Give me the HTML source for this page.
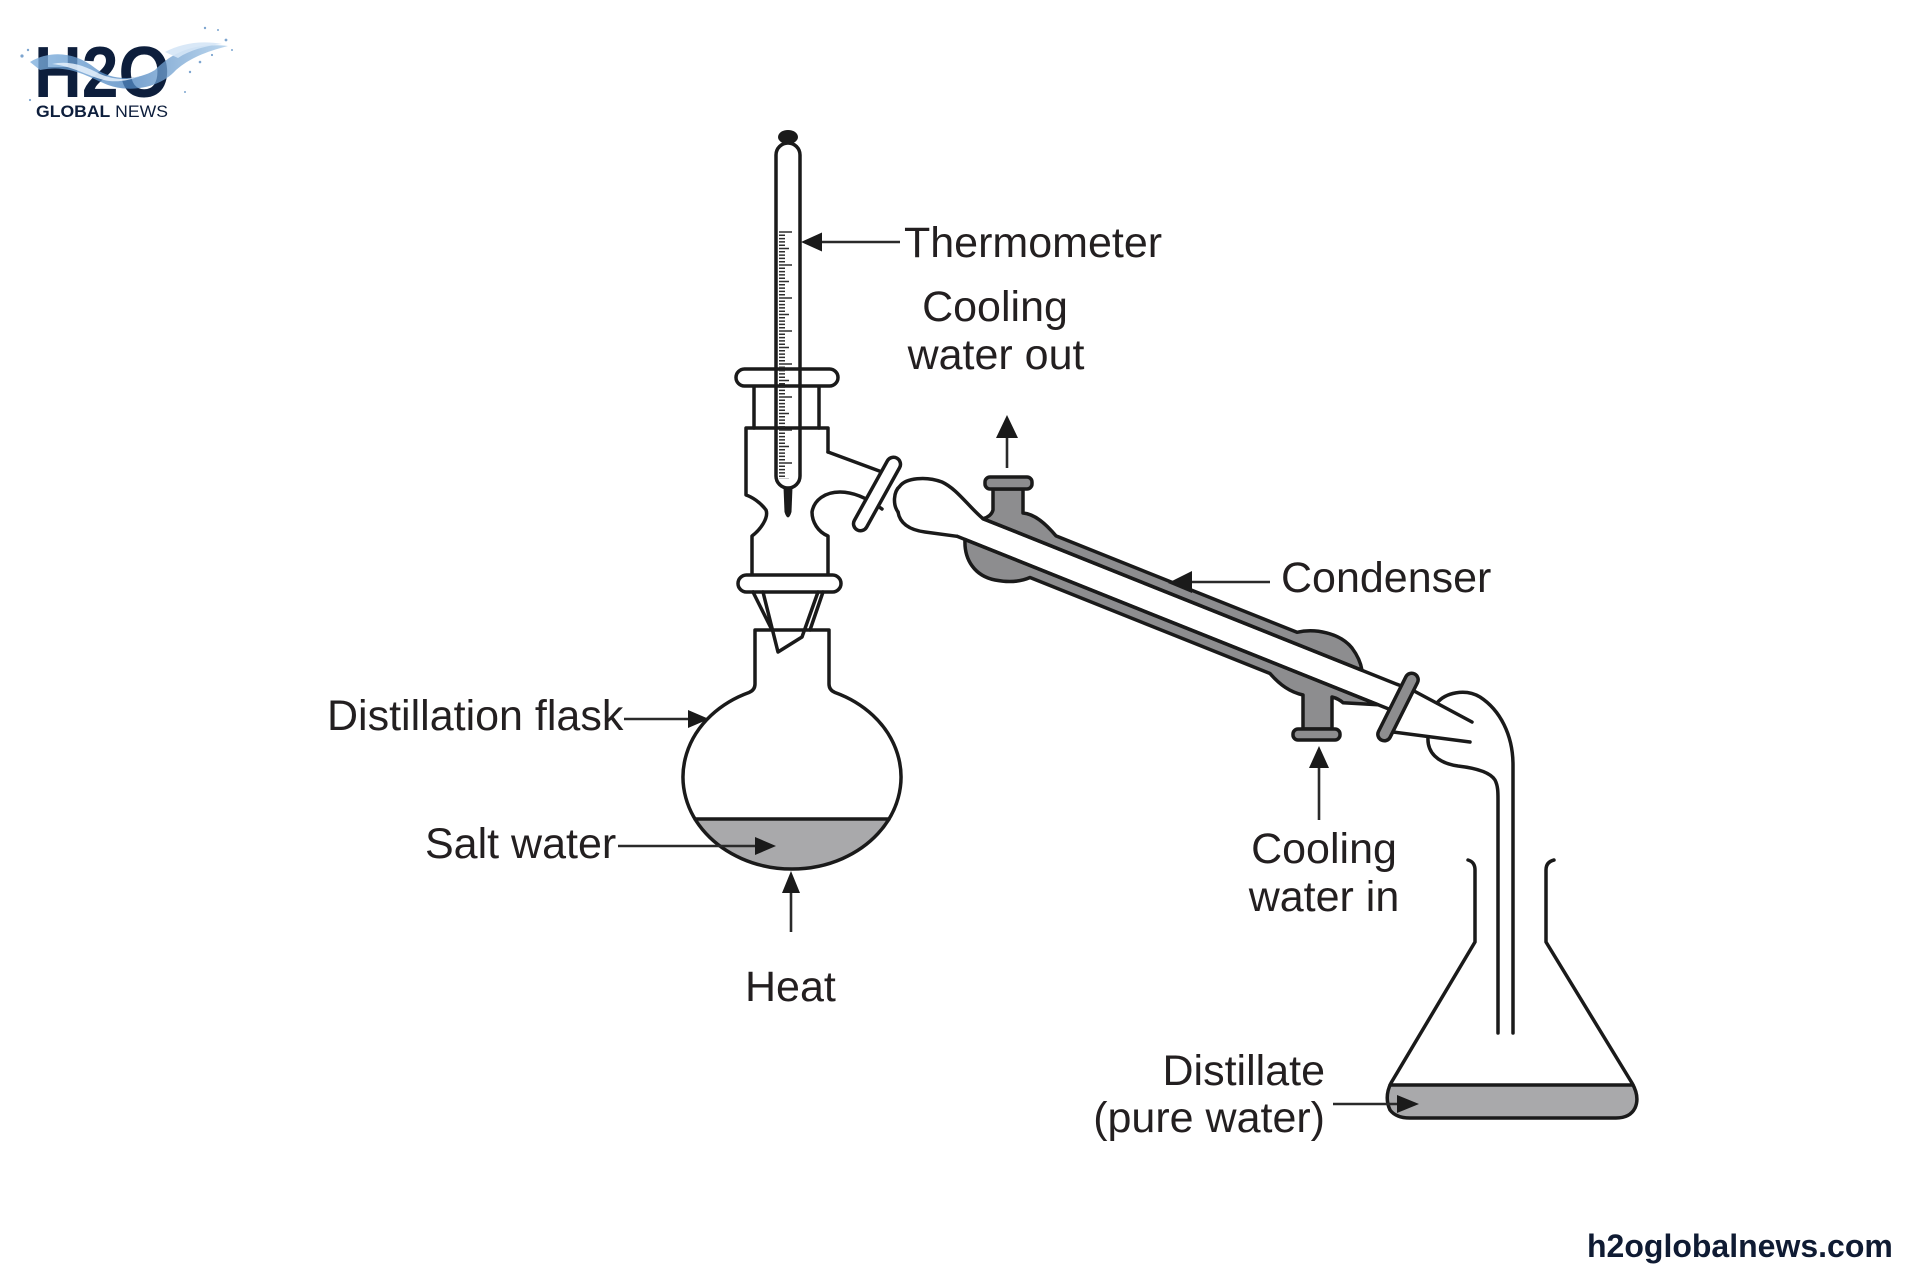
<!DOCTYPE html>
<html>
<head>
<meta charset="utf-8">
<style>
  html,body{margin:0;padding:0;background:#fff;}
  body{width:1920px;height:1280px;overflow:hidden;}
  svg{display:block;}
  .lbl{font-family:"Liberation Sans",Arial,sans-serif;font-size:43px;fill:#231f20;}
</style>
</head>
<body>
<svg width="1920" height="1280" viewBox="0 0 1920 1280" xmlns="http://www.w3.org/2000/svg">
  <defs>
    <pattern id="tk" x="779" y="231" width="20" height="33" patternUnits="userSpaceOnUse">
      <path d="M0 1h13M0 4.3h6M0 7.6h6M0 10.9h6M0 14.2h6M0 17.5h10M0 20.8h6M0 24.1h6M0 27.4h6M0 30.7h6" stroke="#2e2e2e" stroke-width="1.5" fill="none"/>
    </pattern>
    <linearGradient id="spl" x1="0" y1="0" x2="1" y2="0">
      <stop offset="0" stop-color="#7fb0de"/>
      <stop offset="0.5" stop-color="#4f86c0"/>
      <stop offset="1" stop-color="#a9cbe9"/>
    </linearGradient>
  </defs>

  <rect x="0" y="0" width="1920" height="1280" fill="#ffffff"/>

  <!-- ============ LOGO ============ -->
  <g>
    <text x="34" y="97" font-family="Liberation Sans, Arial, sans-serif" font-weight="bold" font-size="72" fill="#0d1e3c" textLength="136" lengthAdjust="spacingAndGlyphs">H2O</text>
    <path d="M30,62 C50,50 75,52 95,68 C110,80 135,82 155,70 C170,55 190,42 228,46 C205,52 190,58 176,70 C160,88 130,93 108,85 C88,77 70,64 40,70 Z" fill="url(#spl)" opacity="0.78"/>
    <path d="M52,64 C70,60 85,66 100,74 C118,82 138,80 152,70 C140,78 120,84 104,80 C88,76 72,66 52,64 Z" fill="#e6f1fb" opacity="0.85"/>
    <path d="M165,52 C180,44 200,40 222,44 C205,46 190,50 178,58 Z" fill="#d5e6f6" opacity="0.9"/>
    <g fill="#5d8fc4" opacity="0.8">
      <circle cx="22" cy="56" r="1.6"/><circle cx="28" cy="50" r="1.2"/><circle cx="200" cy="62" r="1.3"/>
      <circle cx="212" cy="55" r="1.1"/><circle cx="226" cy="40" r="1.4"/><circle cx="218" cy="30" r="1"/>
      <circle cx="205" cy="28" r="1.2"/><circle cx="190" cy="72" r="1.2"/><circle cx="185" cy="92" r="1"/>
      <circle cx="30" cy="100" r="1.1"/><circle cx="232" cy="50" r="1"/>
    </g>
    <text x="36" y="117" font-family="Liberation Sans, Arial, sans-serif" font-size="17" fill="#0d1e3c" textLength="132" lengthAdjust="spacingAndGlyphs"><tspan font-weight="bold">GLOBAL</tspan> NEWS</text>
  </g>

  <!-- ============ APPARATUS ============ -->
  <g stroke="#1a1a1a" stroke-width="3.5" fill="none" stroke-linejoin="round" stroke-linecap="round">

    <!-- condenser jackets -->
    <path d="M983,518.7 C989,517 992,514 993,510 V489 H1023 V513 C1035,514 1046,524 1056,535.9 L1297,632.3 C1315,628 1340,633 1352,648 C1358,656 1361,664 1362,670.3 L983,518.7 Z" fill="#8d8d8f"/>
    <path d="M965,539.5 C964,560 975,576 995,580 C1010,583 1022,581 1030,577.5 L1270,673.5 C1280,685 1290,692 1303,695 V729 H1332 V697 C1336,698 1340,700 1343,702.7 L1378,704.7 L965,539.5 Z" fill="#8d8d8f"/>
    <rect x="985" y="477" width="47" height="12" rx="5" fill="#8d8d8f"/>
    <rect x="1293" y="729" width="47" height="11" rx="5" fill="#8d8d8f"/>

    <!-- inner tube -->
    <path d="M983,518.7 L1415,691.5 L1472,722"/>
    <path d="M957,536.3 L1390,709.5"/>
    <path d="M1393,732 L1470,742"/>

    <!-- adapter bulb near still head -->
    <path d="M898,512 C893,505 893,492 900,486 C906,478 926,476 942,482 C957,489 968,506 983,518.7"/>
    <path d="M898,512 C900,524 910,530 925,532 L957,536.3"/>

    <!-- side arm -->
    <path d="M828,452 L882,472"/>
    <path d="M882,509 C870,500 856,492 840,492 C825,492 814,500 812,512 C812,522 818,532 828,536 V575"/>

    <!-- ring 1 -->
    <rect x="-7" y="-41" width="14" height="82" rx="7" transform="translate(877,494) rotate(29)" fill="#ffffff"/>

    <!-- receiver adapter + delivery tube -->
    <path d="M1437,703 C1445,693 1465,688 1480,697 C1500,710 1513,735 1513,765 V1033"/>
    <path d="M1428,737 C1427,752 1437,763 1458,766 C1475,768 1490,772 1495,780 C1498,786 1498,792 1498,800 V1033"/>

    <!-- ring 2 -->
    <rect x="-6.5" y="-37" width="13" height="74" rx="6.5" transform="translate(1398,707) rotate(26.6)" fill="#8d8d8f"/>

    <!-- Erlenmeyer flask -->
    <path d="M1390,1085 H1633 Q1640,1097 1635,1108 Q1630,1118 1616,1118 H1410 Q1396,1118 1390,1110 Q1384,1097 1390,1085 Z" fill="#a9a9ab" stroke="none"/>
    <path d="M1390,1085 H1633"/>
    <path d="M1468,860 Q1475,862 1475,870 V942 L1391,1083 Q1384,1097 1390,1110 Q1396,1118 1410,1118 H1616 Q1630,1118 1635,1108 Q1640,1097 1632,1083 L1546,942 V870 Q1546,862 1554,860"/>

    <!-- distillation flask -->
    <path d="M695,819 A109,92 0 0 0 889,819 Z" fill="#a9a9ab" stroke="none"/>
    <path d="M695,819 H889"/>
    <path d="M755,630 V684 Q755,690 749,692.5 A109,92 0 1 0 835,692.5 Q829,690 829,684 V630 Z"/>

    <!-- still head -->
    <path d="M752,575 V536 C760,530 769,518 766,510 C760,502 752,497 746,495 V428 H828 V452"/>
    <path d="M754,386 V428 M819,386 V428"/>
    <rect x="736" y="369" width="102" height="17" rx="8.5" fill="#ffffff"/>
    <rect x="738" y="575" width="103" height="17" rx="8.5" fill="#ffffff"/>

    <!-- cone joint -->
    <path d="M753,592 L772,630 M763,592 L778,652 L802,637 L818,592 M823,592 L810,630"/>

    <!-- thermometer -->
    <rect x="776" y="143" width="24" height="345" rx="12"/>
  </g>

  <!-- thermometer details -->
  <rect x="779" y="231" width="14" height="248" fill="url(#tk)"/>
  <ellipse cx="788" cy="137" rx="10" ry="7" fill="#1a1a1a"/>
  <path d="M783.5,487 H792.5 L791.5,512 Q788,523 784.5,512 Z" fill="#1a1a1a"/>

  <!-- ============ ARROWS ============ -->
  <g stroke="#2a2a2a" stroke-width="2.6" fill="none">
    <path d="M821,242 H900"/>
    <path d="M1007,468 V436"/>
    <path d="M1190,582 H1270"/>
    <path d="M624,719 H690"/>
    <path d="M618,846 H758"/>
    <path d="M791,932 V890"/>
    <path d="M1319,820 V766"/>
    <path d="M1333,1104 H1400"/>
  </g>
  <g fill="#1a1a1a">
    <polygon points="801,242 822,232.5 822,251.5"/>
    <polygon points="1007,415 996,438 1018,438"/>
    <polygon points="1168,583 1192,571 1192,593"/>
    <polygon points="709,719 688,710 688,728"/>
    <polygon points="776,846 755,837 755,855"/>
    <polygon points="791,871 782,893 800,893"/>
    <polygon points="1319,746 1309,768 1329,768"/>
    <polygon points="1419,1104 1397,1095 1397,1113"/>
  </g>

  <!-- ============ LABELS ============ -->
  <text class="lbl" x="904" y="257">Thermometer</text>
  <text class="lbl" x="995" y="321" text-anchor="middle">Cooling</text>
  <text class="lbl" x="996" y="369" text-anchor="middle">water out</text>
  <text class="lbl" x="1281" y="592">Condenser</text>
  <text class="lbl" x="327" y="730">Distillation flask</text>
  <text class="lbl" x="425" y="858">Salt water</text>
  <text class="lbl" x="745" y="1001">Heat</text>
  <text class="lbl" x="1324" y="863" text-anchor="middle">Cooling</text>
  <text class="lbl" x="1324" y="911" text-anchor="middle">water in</text>
  <text class="lbl" x="1325" y="1085" text-anchor="end">Distillate</text>
  <text class="lbl" x="1325" y="1132" text-anchor="end">(pure water)</text>

  <text x="1587" y="1257" font-family="Liberation Sans, Arial, sans-serif" font-weight="bold" font-size="32" fill="#0f1b33">h2oglobalnews.com</text>
</svg>
</body>
</html>
